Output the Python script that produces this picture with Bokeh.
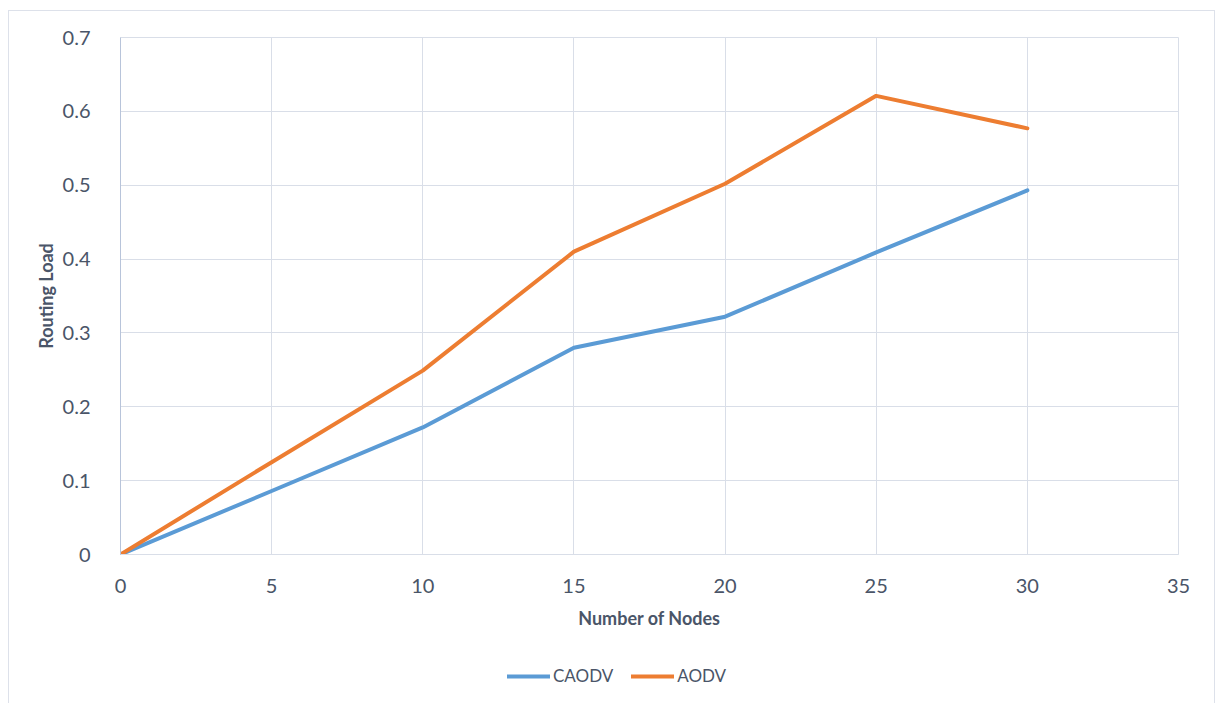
from bokeh.plotting import figure
from bokeh.layouts import column
from bokeh.models import FixedTicker, Legend, LegendItem
from bokeh.embed import file_html
from bokeh.resources import INLINE

# Routing load versus network size
nodes = [0, 5, 10, 15, 20, 25, 30]
caodv = [0.0, 0.086, 0.172, 0.280, 0.322, 0.409, 0.493]
aodv = [0.0, 0.125, 0.249, 0.410, 0.502, 0.621, 0.577]

x_ticks = [0, 5, 10, 15, 20, 25, 30, 35]
y_ticks = [0, 0.1, 0.2, 0.3, 0.4, 0.5, 0.6, 0.7]
y_tick_labels = ["0", "0.1", "0.2", "0.3", "0.4", "0.5", "0.6", "0.7"]

series = [("CAODV", caodv, "#5b9bd5"), ("AODV", aodv, "#ed7d31")]

FONT = "Lato"
TEXT = "#4a5568"
GRID = "#d9dee8"

p = figure(
    width=1205, height=640,
    x_range=(0, 35), y_range=(0, 0.7),
    output_backend="svg", toolbar_location=None,
    min_border_left=111, min_border_right=36,
    min_border_top=26, min_border_bottom=97,
)
p.background_fill_color = "white"
p.border_fill_color = "white"
p.outline_line_color = GRID

p.xaxis.ticker = FixedTicker(ticks=x_ticks)
p.yaxis.ticker = FixedTicker(ticks=y_ticks)
p.yaxis.major_label_overrides = {t: s for t, s in zip(y_ticks, y_tick_labels)}

for ax in (p.xaxis[0], p.yaxis[0]):
    ax.major_tick_line_color = None
    ax.minor_tick_line_color = None
    ax.major_label_text_font = FONT
    ax.major_label_text_font_size = "20px"
    ax.major_label_text_color = TEXT
    ax.axis_label_text_font = FONT
    ax.axis_label_text_font_style = "bold"
    ax.axis_label_text_color = TEXT

p.xaxis.axis_label_text_font_size = "18px"
p.yaxis.axis_label_text_font_size = "18px"
p.xaxis.axis_line_color = GRID
p.yaxis.axis_line_color = "#b8c4da"
p.xaxis.axis_label = "Number of Nodes"
p.yaxis.axis_label = "Routing Load"
p.xaxis.major_label_standoff = 18
p.yaxis.major_label_standoff = 24
p.xaxis.axis_label_standoff = 11
p.yaxis.axis_label_standoff = 3

p.xgrid.ticker = FixedTicker(ticks=x_ticks)
p.ygrid.ticker = FixedTicker(ticks=y_ticks)
p.grid.grid_line_color = GRID
p.grid.grid_line_width = 1

for name, vals, color in series:
    p.line(nodes, vals, line_color=color, line_width=4, line_cap="round")

# Legend strip below the chart: same series, drawn outside its visible range
lf = figure(
    width=1205, height=52,
    x_range=(-100, -99), y_range=(-100, -99),
    output_backend="svg", toolbar_location=None,
    min_border=0, outline_line_color=None,
)
lf.axis.visible = False
lf.grid.visible = False
lf.border_fill_color = "white"
lf.background_fill_color = "white"

items = []
for name, vals, color in series:
    r = lf.line(nodes, vals, line_color=color, line_width=4, line_cap="round")
    items.append(LegendItem(label=name, renderers=[r]))

legend = Legend(
    items=items,
    orientation="horizontal",
    location=(387, 17),
    border_line_color=None,
    background_fill_alpha=0,
    padding=0, margin=0,
    spacing=18,
    glyph_width=43, glyph_height=20,
    label_standoff=3,
    label_text_font=FONT,
    label_text_font_size="17px",
    label_text_color=TEXT,
)
lf.add_layout(legend, "center")

layout = column(p, lf, spacing=0)
layout.margin = (10, 0, 0, 8)
layout.styles = {"border": "1px solid #dde1ea", "background": "white"}

open("out.html", "w").write(file_html(layout, INLINE))
